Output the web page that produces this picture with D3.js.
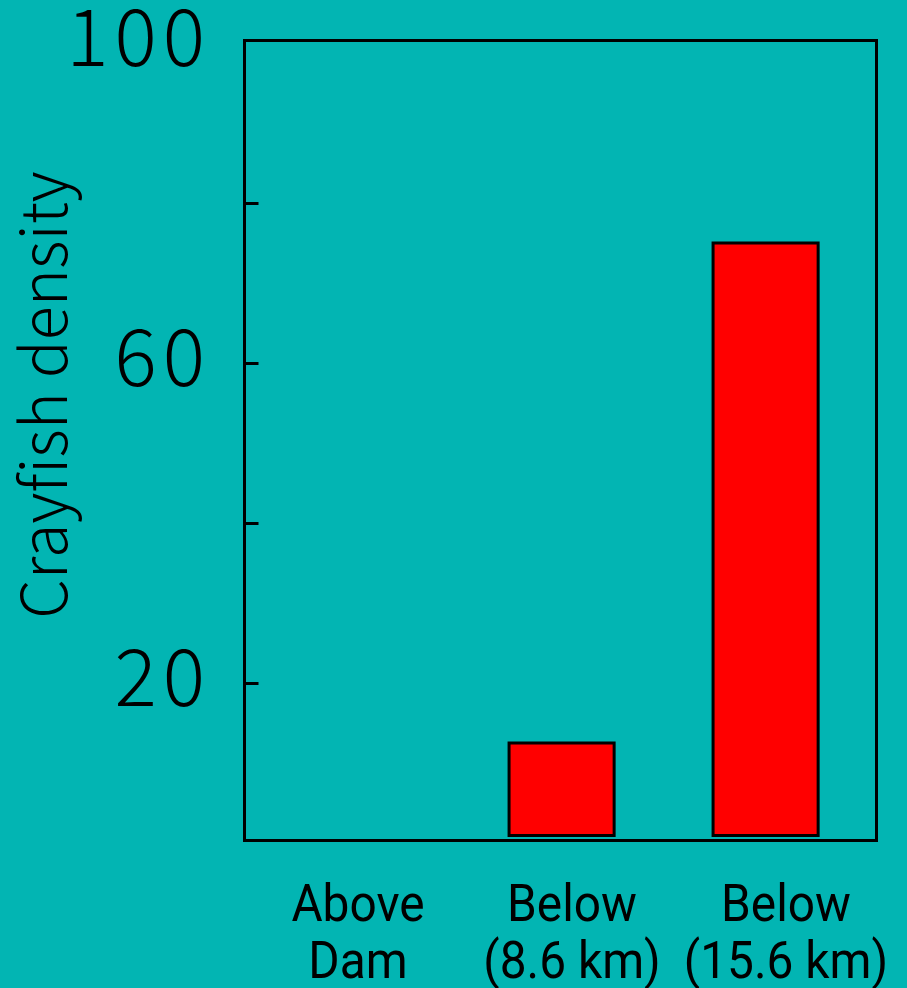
<!DOCTYPE html>
<html>
<head>
<meta charset="utf-8">
<script src="https://cdn.jsdelivr.net/npm/d3@7"></script>
<style>
  html, body { margin: 0; padding: 0; background: #02b5b3; }
  svg { display: block; }
</style>
</head>
<body>
<svg id="chart" width="907" height="988"></svg>
<script>
// ---- data ----
const categories = ["Above Dam", "Below (8.6 km)", "Below (15.6 km)"];
const categoryLines = [["Above", "Dam"], ["Below", "(8.6 km)"], ["Below", "(15.6 km)"]];
const densities = [0, 12.5, 75];
const tickValues = [20, 40, 60, 80];
const tickLabels = [100, 60, 20];
const yTitle = "Crayfish density";

// ---- layout ----
const W = 907, H = 988;
const frame = { left: 244.5, top: 40.5, right: 876.5, bottom: 840.5 };
const svg = d3.select("#chart");
svg.append("rect").attr("width", W).attr("height", H).attr("fill", "#02b5b3");

const y = d3.scaleLinear().domain([0, 100]).range([843, 43]);
const x = d3.scaleBand().domain(categories).range([255.6, 867.6])
  .paddingInner(0.485).paddingOuter(0.2425);
const xLabel = d3.scalePoint().domain(categories).range([358, 786]);

// frame
svg.append("rect")
  .attr("x", frame.left).attr("y", frame.top)
  .attr("width", frame.right - frame.left).attr("height", frame.bottom - frame.top)
  .attr("fill", "none").attr("stroke", "#000").attr("stroke-width", 3);

// ticks inside, pointing right
const yAxis = d3.axisRight(y).tickValues(tickValues).tickSize(14).tickFormat("");
const gAxis = svg.append("g").attr("transform", `translate(${frame.left},0)`).call(yAxis);
gAxis.select(".domain").remove();
gAxis.selectAll(".tick line").attr("stroke", "#000").attr("stroke-width", 3);

// tick labels
svg.append("g").selectAll("text").data(tickLabels).join("text")
  .attr("x", 211).attr("y", d => y(d) + 23)
  .attr("text-anchor", "end")
  .attr("font-family", "'Noto Sans CJK JP', 'DejaVu Sans', sans-serif")
  .attr("font-weight", 300)
  .attr("font-size", 79)
  .attr("letter-spacing", 6)
  .attr("fill", "#000")
  .text(d => d);

// bars
const base = y(0) - 7.5;
svg.append("g").selectAll("rect").data(categories.map((c, i) => ({ c, v: densities[i] })).filter(d => d.v > 0))
  .join("rect")
  .attr("x", d => x(d.c))
  .attr("y", d => y(d.v))
  .attr("width", x.bandwidth())
  .attr("height", d => base - y(d.v))
  .attr("fill", "#ff0000")
  .attr("stroke", "#000").attr("stroke-width", 3);

// y title
svg.append("text")
  .attr("transform", `translate(67,395) rotate(-90)`)
  .attr("text-anchor", "middle")
  .attr("font-family", "'Noto Sans CJK JP', 'Noto Sans', sans-serif")
  .attr("font-weight", 300)
  .attr("font-size", 63)
  .attr("fill", "#000")
  .text(yTitle);

// category labels (condensed)
const gCat = svg.append("g");
categories.forEach((c, i) => {
  const cx = xLabel(c);
  const t = gCat.append("text")
    .attr("transform", `translate(${cx},0) scale(0.92,1)`)
    .attr("text-anchor", "middle")
    .attr("font-family", "'Liberation Sans Narrow', 'Arial Narrow', 'Roboto', sans-serif")
    .attr("font-size", 52)
    .attr("fill", "#000");
  categoryLines[i].forEach((line, j) => {
    t.append("tspan").attr("x", 0).attr("y", 921 + j * 57).text(line);
  });
});
</script>
</body>
</html>
